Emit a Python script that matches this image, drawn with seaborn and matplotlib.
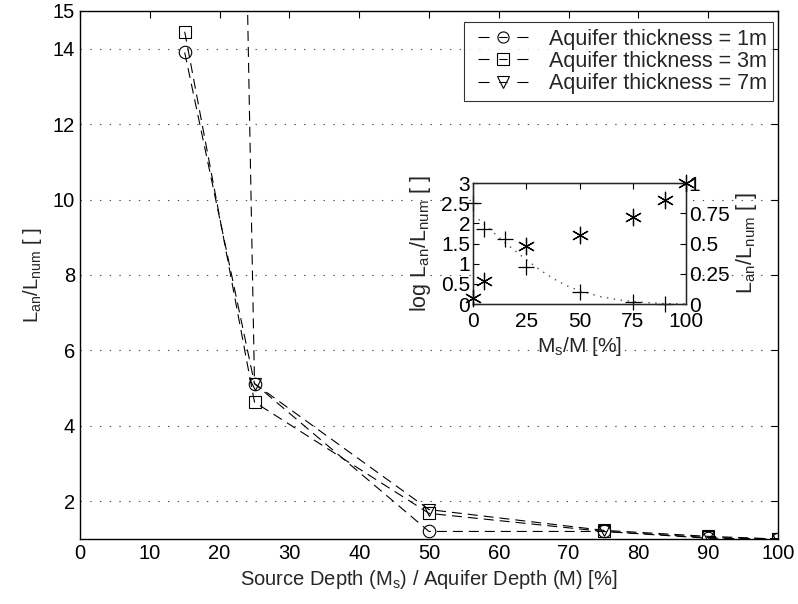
import matplotlib
matplotlib.use("Agg")
import matplotlib.pyplot as plt
import seaborn as sns
import pandas as pd

# ---- main chart data ----
depth = [15, 25, 50, 75, 90, 100]
ratio_1m = [13.9, 5.12, 1.2, 1.2, 1.02, 1.0]
ratio_3m = [14.45, 4.63, 1.68, 1.2, 1.04, 1.0]
ratio_7m = [105.0, 5.12, 1.78, 1.23, 1.07, 1.0]
series_labels = ["Aquifer thickness = 1m", "Aquifer thickness = 3m", "Aquifer thickness = 7m"]

# ---- inset data ----
inset_x_log = [0, 5, 15, 25, 50, 75, 90]
inset_log = [2.5, 1.86, 1.61, 0.92, 0.30, 0.05, 0.01]
fit_x = [0, 5, 10, 15, 20, 25, 30, 35, 40, 45, 50, 60, 70, 80, 90, 100]
fit_y = [2.2, 2.0, 1.75, 1.52, 1.31, 1.1, 0.9, 0.72, 0.56, 0.43, 0.33, 0.18, 0.09, 0.04, 0.01, 0.0]
inset_x_ratio = [0, 5, 25, 50, 75, 90, 100]
inset_ratio = [0.05, 0.19, 0.48, 0.57, 0.72, 0.86, 1.0]

xticks_main = list(range(0, 101, 10))
yticks_main = [2, 4, 6, 8, 10, 12, 14, 15]

sns.set_style("white")
plt.rcParams["font.family"] = ["Liberation Sans", "DejaVu Sans"]
plt.rcParams["mathtext.fontset"] = "custom"
plt.rcParams["mathtext.rm"] = "Liberation Sans"
plt.rcParams["mathtext.it"] = "Liberation Sans:italic"
plt.rcParams["mathtext.default"] = "rm"
plt.rcParams["lines.scale_dashes"] = False

fig = plt.figure(figsize=(7.98, 6.04), dpi=100)
ax = fig.add_axes([80 / 798, 1 - 539 / 604, 698 / 798, 528 / 604])

markers = ["o", "s", "v"]
for vals, m, lab in zip([ratio_1m, ratio_3m, ratio_7m], markers, series_labels):
    df = pd.DataFrame({"x": depth, "y": vals})
    sns.lineplot(data=df, x="x", y="y", ax=ax, color="k", linestyle="--",
                 lw=0.8, marker=m, markersize=9, markerfacecolor="none",
                 markeredgecolor="k", markeredgewidth=0.8, label=lab)
for line in ax.lines:
    line.set_dashes((7.2, 4.3))

ax.set_xlim(0, 100)
ax.set_ylim(1, 15)
ax.set_xticks(xticks_main)
ax.set_yticks(yticks_main)
ax.yaxis.grid(True, linestyle=(0, (1, 6)), color="0.3", lw=0.8)
ax.xaxis.grid(False)
ax.tick_params(direction="in", top=True, right=True, length=5, width=0.8,
               labelsize=14.5, colors="k")
for s in ax.spines.values():
    s.set_color("k")
    s.set_linewidth(1.0)
ax.set_xlabel("Source Depth (M$_s$) / Aquifer Depth (M) [%]", fontsize=14.5, labelpad=4)
ax.set_ylabel("L$_{an}$/L$_{num}$ [ ]", fontsize=14.5, labelpad=6)

leg = ax.legend(loc="upper right", bbox_to_anchor=(0.993, 0.979), borderaxespad=0,
                fontsize=15.5, frameon=True, fancybox=False, handlelength=2.97,
                handletextpad=0.65, borderpad=0.3, labelspacing=0.06)
leg.get_frame().set_edgecolor("k")
leg.get_frame().set_linewidth(0.8)
for hl in leg.get_lines():
    hl.set_linestyle((41, (8, 7, 6, 7, 8, 10)))
    hl.set_linewidth(0.8)
    hl.set_markersize(8)

# ---- inset ----
ax2 = fig.add_axes([473 / 798, 1 - 304 / 604, 213 / 798, 121 / 604])
ax2.set_facecolor("white")
sns.lineplot(x=fit_x, y=fit_y, ax=ax2, color="0.3", linestyle=":", lw=1.0)
ax2.lines[-1].set_dashes((1, 4))
sns.scatterplot(x=inset_x_log, y=inset_log, ax=ax2, marker="+", s=130, color="k",
                linewidth=0.9, clip_on=False, zorder=5)
ax2.set_xlim(0, 100)
ax2.set_ylim(0, 3)
ax2.set_xticks([0, 25, 50, 75, 100])
ax2.set_yticks([0, 0.5, 1, 1.5, 2, 2.5, 3])
ax2.set_yticklabels(["0", "0.5", "1", "1.5", "2", "2.5", "3"])
ax2.tick_params(direction="in", top=True, length=4, width=0.8, labelsize=15,
                pad=2, colors="k")
ax2.tick_params(axis="x", pad=6)
ax2.set_xlabel("M$_s$/M [%]", fontsize=15, labelpad=3)
ax2.set_ylabel("log L$_{an}$/L$_{num}$ [ ]", fontsize=15.5, labelpad=6)
for s in ax2.spines.values():
    s.set_color("k")
    s.set_linewidth(1.0)

ax3 = ax2.twinx()
sns.scatterplot(x=inset_x_ratio, y=inset_ratio, ax=ax3, marker=(6, 2, 0), s=140,
                color="k", linewidth=0.9, clip_on=False, zorder=5)
ax3.set_ylim(0, 1)
ax3.set_yticks([0, 0.25, 0.5, 0.75, 1])
ax3.set_yticklabels(["0", "0.25", "0.5", "0.75", "1"])
ax3.tick_params(direction="in", length=4, width=0.8, labelsize=15, pad=2, colors="k")
ax3.set_ylabel("L$_{an}$/L$_{num}$ [ ]", fontsize=15.5, rotation=90, labelpad=3)
ax3.grid(False)
ax2.grid(False)

fig.savefig("out.png", dpi=100)
